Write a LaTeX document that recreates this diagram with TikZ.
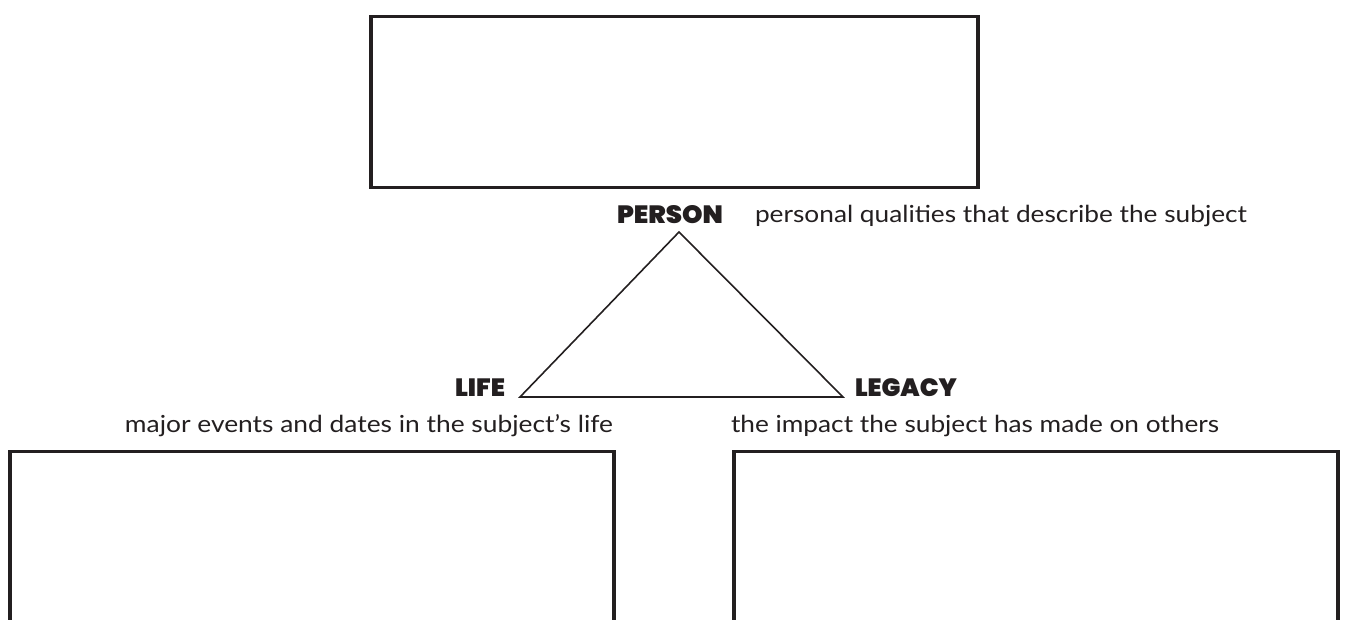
\documentclass[tikz,border=0pt]{standalone}
\usepackage{fontspec}
\usepackage{graphicx}
\setmainfont{Lato}
\newfontfamily\labfont{Poppins}[BoldFont={* Black}]
\definecolor{ink}{HTML}{231F20}
\newcommand\fitw[2]{\resizebox{#1}{\height}{#2}}
\begin{document}
\begin{tikzpicture}[x=1pt,y=1pt,
  box/.style={draw=ink, line width=3.5pt, inner sep=0pt, outer sep=0pt},
  lab/.style={inner sep=0pt, outer sep=0pt, text=ink, font=\labfont\bfseries\fontsize{25}{25}\selectfont},
  desc/.style={inner sep=0pt, outer sep=0pt, text=ink, font=\fontsize{23.5}{24}\selectfont},
  tri/.style={draw=ink, line width=1.6pt, line join=miter}]
\clip (0,0) rectangle (1346,-619);
% boxes
\node[box, minimum width=607pt, minimum height=171pt] (top) at (674.5,-102) {};
\node[box, minimum width=604pt, minimum height=260pt] (lbox) at (312,-581.5) {};
\node[box, minimum width=604pt, minimum height=260pt] (rbox) at (1036,-581.5) {};
% labels
\node[lab, anchor=base east] (person) at (723,-223) {\fitw{106pt}{PERSON}};
\node[lab, anchor=base west] (life) at (455,-396) {\fitw{50pt}{LIFE}};
\node[lab, anchor=base west] (legacy) at (855,-396) {\fitw{102pt}{LEGACY}};
% descriptions
\node[desc, anchor=base west] (dperson) at (755,-222) {\fitw{492pt}{personal qualities that describe the subject}};
\node[desc, anchor=base east] (dlife) at (613,-432) {\fitw{488pt}{major events and dates in the subject\char"0027 s life}};
\node[desc, anchor=base west] (dlegacy) at (731,-432) {\fitw{488pt}{the impact the subject has made on others}};
% triangle
\coordinate (apex) at (679,-232);
\coordinate (bl) at (520,-397);
\coordinate (br) at (843,-397);
\draw[tri] (apex) -- (bl) -- (br) -- cycle;
\end{tikzpicture}
\end{document}
